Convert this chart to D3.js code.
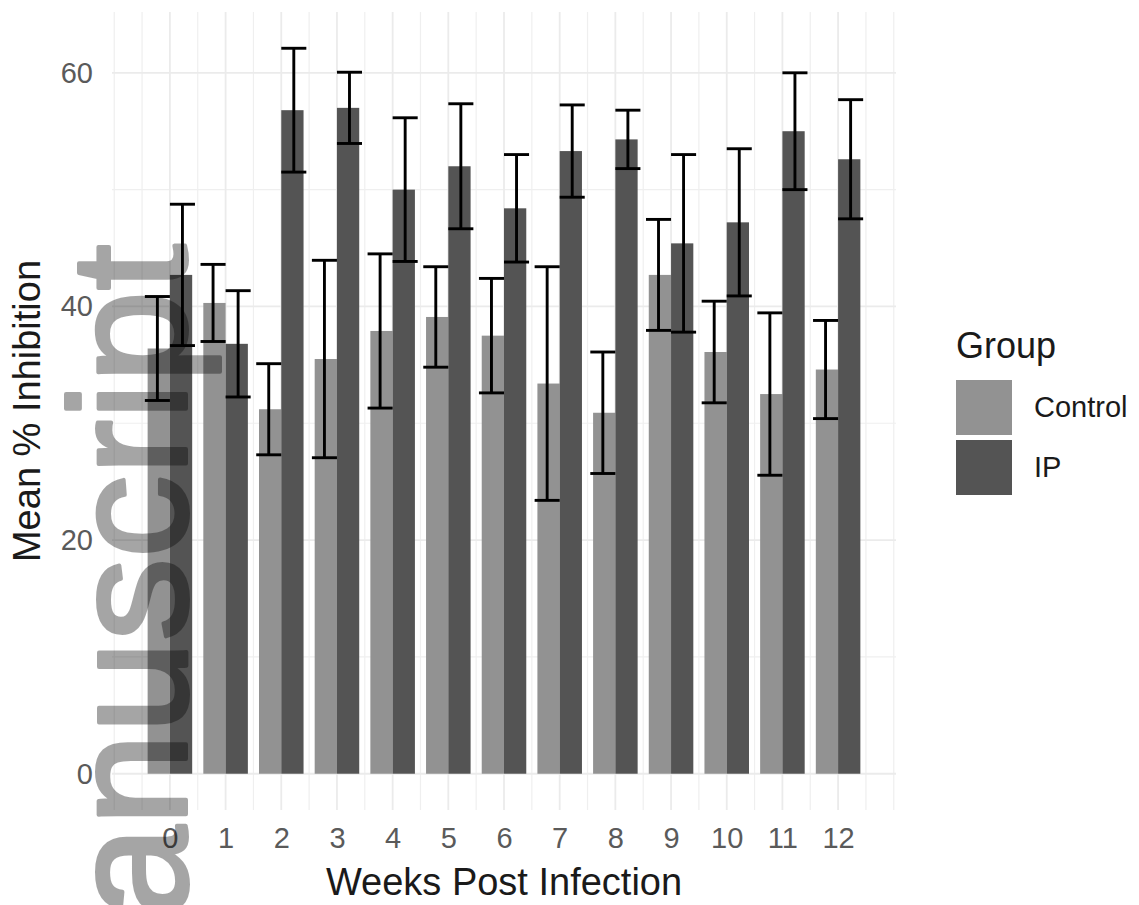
<!DOCTYPE html>
<html>
<head>
<meta charset="utf-8">
<script src="https://cdn.jsdelivr.net/npm/d3@7"></script>
<style>
  html, body { margin: 0; padding: 0; background: #fff; }
  svg { display: block; font-family: "Liberation Sans", Arial, sans-serif; }
</style>
</head>
<body>
<div id="chart"></div>
<script>
'use strict';

// values
var weeks = [0, 1, 2, 3, 4, 5, 6, 7, 8, 9, 10, 11, 12];
var groups = ['Control', 'IP'];
var controlMean = [36.4, 40.3, 31.2, 35.5, 37.9, 39.1, 37.5, 33.4, 30.9, 42.7, 36.1, 32.5, 34.6];
var controlErr  = [4.45, 3.3, 3.9, 8.45, 6.6, 4.3, 4.9, 10.0, 5.2, 4.75, 4.35, 6.95, 4.2];
var ipMean = [42.7, 36.8, 56.8, 57.0, 50.0, 52.0, 48.4, 53.3, 54.3, 45.4, 47.2, 55.0, 52.6];
var ipErr  = [6.05, 4.55, 5.3, 3.05, 6.15, 5.35, 4.6, 3.95, 2.5, 7.6, 6.3, 5.0, 5.1];
var yTicks = [0, 20, 40, 60];
var yMinor = [10, 30, 50];

var W = 1139, H = 905;
var margin = {top: 12, right: 243, bottom: 95, left: 112};
var fill = {Control: '#929292', IP: '#545454'};

var rows = [];
weeks.forEach(function (w, i) {
  rows.push({week: w, group: 'Control', mean: controlMean[i], err: controlErr[i]});
  rows.push({week: w, group: 'IP', mean: ipMean[i], err: ipErr[i]});
});

var svg = d3.select('#chart').append('svg')
    .attr('width', W)
    .attr('height', H);

// ggplot style 5% expansion
var barW = 0.8, dodgeE = 0.9;
var xLo = d3.min(weeks) - barW / 2, xHi = d3.max(weeks) + barW / 2;
var xPad = (xHi - xLo) * 0.05;
var yHi = d3.max(rows, function (d) { return d.mean + d.err; });
var yPad = yHi * 0.05;

var x = d3.scaleLinear()
    .domain([xLo - xPad, xHi + xPad])
    .range([margin.left, W - margin.right]);
var y = d3.scaleLinear()
    .domain([-yPad, yHi + yPad])
    .range([H - margin.bottom, margin.top]);

var bw = x(barW / 2) - x(0);

// grid
var grid = svg.append('g');
var xMinor = d3.range(-1, 13.5, 0.5).filter(function (v) { return weeks.indexOf(v) < 0; });
grid.selectAll('.vminor').data(xMinor).enter().append('line')
    .attr('x1', x).attr('x2', x)
    .attr('y1', y.range()[0]).attr('y2', y.range()[1])
    .attr('stroke', '#efefef').attr('stroke-width', 1.2);
grid.selectAll('.hminor').data(yMinor).enter().append('line')
    .attr('x1', x.range()[0]).attr('x2', x.range()[1])
    .attr('y1', y).attr('y2', y)
    .attr('stroke', '#efefef').attr('stroke-width', 1.2);
grid.selectAll('.vmajor').data(weeks).enter().append('line')
    .attr('x1', x).attr('x2', x)
    .attr('y1', y.range()[0]).attr('y2', y.range()[1])
    .attr('stroke', '#ebebeb').attr('stroke-width', 1.8);
grid.selectAll('.hmajor').data(yTicks).enter().append('line')
    .attr('x1', x.range()[0]).attr('x2', x.range()[1])
    .attr('y1', y).attr('y2', y)
    .attr('stroke', '#ebebeb').attr('stroke-width', 1.8);

// bars
svg.append('g').selectAll('rect').data(rows).enter().append('rect')
    .attr('x', function (d) { return d.group === 'Control' ? x(d.week) - bw : x(d.week); })
    .attr('width', bw)
    .attr('y', function (d) { return y(d.mean); })
    .attr('height', function (d) { return y(0) - y(d.mean); })
    .attr('fill', function (d) { return fill[d.group]; });

// error bars
var off = dodgeE / 4, capHalf = dodgeE / 4;
var eb = svg.append('g').attr('stroke', '#000').attr('stroke-width', 2.9).attr('fill', 'none');
rows.forEach(function (d) {
  var cx = d.week + (d.group === 'Control' ? -off : off);
  var top = y(d.mean + d.err), bot = y(d.mean - d.err);
  eb.append('line').attr('x1', x(cx)).attr('x2', x(cx)).attr('y1', top).attr('y2', bot);
  eb.append('line').attr('x1', x(cx - capHalf)).attr('x2', x(cx + capHalf)).attr('y1', top).attr('y2', top);
  eb.append('line').attr('x1', x(cx - capHalf)).attr('x2', x(cx + capHalf)).attr('y1', bot).attr('y2', bot);
});

// axes
var xAxis = svg.append('g')
    .attr('transform', 'translate(0,' + y.range()[0] + ')')
    .call(d3.axisBottom(x).tickValues(weeks).tickSize(0).tickPadding(17).tickFormat(d3.format('d')));
var yAxis = svg.append('g')
    .attr('transform', 'translate(' + x.range()[0] + ',0)')
    .call(d3.axisLeft(y).tickValues(yTicks).tickSize(0).tickPadding(19));
[xAxis, yAxis].forEach(function (a) {
  a.select('.domain').remove();
  a.selectAll('text')
      .attr('fill', '#5a5a5a')
      .style('font-size', '29px')
      .style('font-family', '"Liberation Sans", Arial, sans-serif');
});

svg.append('text')
    .attr('x', (x.range()[0] + x.range()[1]) / 2)
    .attr('y', 895)
    .attr('text-anchor', 'middle')
    .attr('fill', '#1a1a1a')
    .style('font-size', '38px')
    .text('Weeks Post Infection');

svg.append('text')
    .attr('transform', 'translate(40,' + ((y.range()[0] + y.range()[1]) / 2) + ') rotate(-90)')
    .attr('text-anchor', 'middle')
    .attr('fill', '#1a1a1a')
    .style('font-size', '38px')
    .text('Mean % Inhibition');

// legend
var lg = svg.append('g').attr('transform', 'translate(956,0)');
lg.append('text').attr('x', 0).attr('y', 358)
    .attr('fill', '#1a1a1a').style('font-size', '36px').text('Group');
groups.forEach(function (g, i) {
  lg.append('rect').attr('x', 0).attr('y', 380 + i * 60).attr('width', 56).attr('height', 55)
      .attr('fill', fill[g]);
  lg.append('text').attr('x', 78).attr('y', 407 + i * 60)
      .attr('dominant-baseline', 'central')
      .attr('fill', '#1a1a1a').style('font-size', '29px').text(g);
});

// watermark over the figure (cut at the bottom edge, as in the source)
svg.append('g')
    .attr('opacity', 0.35)
  .append('text')
    .attr('transform', 'translate(186,918) rotate(-90)')
    .attr('fill', '#000')
    .attr('stroke', '#000')
    .attr('stroke-width', 4)
    .attr('stroke-linejoin', 'round')
    .style('font-size', '166px')
    .text('anuscript');
</script>
</body>
</html>
